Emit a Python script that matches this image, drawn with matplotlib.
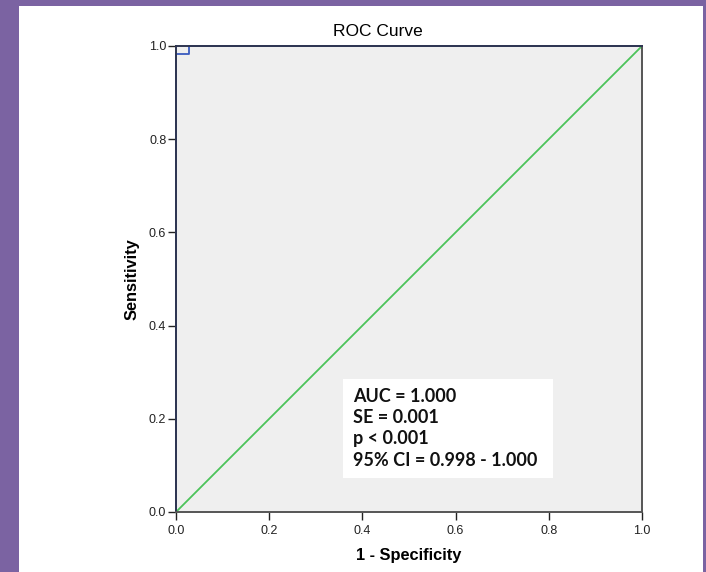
import matplotlib.pyplot as plt
from matplotlib.patches import Rectangle

# ROC curve points (1 - specificity, sensitivity)
fpr = [0.0, 0.0, 0.028, 0.028, 1.0]
tpr = [0.0, 0.983, 0.983, 1.0, 1.0]
ref_line = [0.0, 1.0]
ticks = [0.0, 0.2, 0.4, 0.6, 0.8, 1.0]
tick_labels = ['0.0', '0.2', '0.4', '0.6', '0.8', '1.0']
stats = ['AUC = 1.000', 'SE = 0.001', 'p < 0.001', '95% CI = 0.998 - 1.000']

SANS = ['Liberation Sans', 'DejaVu Sans']
W, H = 706, 572
fig = plt.figure(figsize=(W / 100, H / 100), dpi=100, facecolor='#7b63a2')
# white page inside the purple frame
fig.patches.append(Rectangle((19 / W, 0), (703 - 19) / W, (572 - 6) / H,
                             transform=fig.transFigure, facecolor='white',
                             edgecolor='none', zorder=-10))

ax = fig.add_axes([176 / W, 1 - 512 / H, (642 - 176) / W, (512 - 46) / H])
ax.set_facecolor('#efefef')
ax.plot(ref_line, ref_line, color='#4cc35a', lw=1.3, zorder=2)
ax.plot(fpr, tpr, color='#3a5bbf', lw=1.3, zorder=2.2, clip_on=False)
ax.set_xlim(0, 1)
ax.set_ylim(0, 1)

for side in ['bottom', 'right']:
    ax.spines[side].set_color('#555555')
    ax.spines[side].set_linewidth(1.4)
for side in ['left', 'top']:
    ax.spines[side].set_color('#2e3550')
    ax.spines[side].set_linewidth(1.4)

ax.set_xticks(ticks)
ax.set_xticklabels(tick_labels)
ax.set_yticks(ticks)
ax.set_yticklabels(tick_labels)
ax.tick_params(direction='out', length=6, width=1.0, color='#222222',
               labelsize=9, labelcolor='#222222')
ax.tick_params(axis='x', pad=3)
ax.tick_params(axis='y', pad=1)

ax.set_title('ROC Curve', fontsize=12.5, pad=7, x=0.433, family=SANS)
ax.set_xlabel('1 - Specificity', fontsize=11.8, fontweight='bold',
              labelpad=8, family=SANS)
ax.set_ylabel('Sensitivity', fontsize=11.8, fontweight='bold', labelpad=7,
              family=SANS)
for lbl in ax.get_xticklabels() + ax.get_yticklabels():
    lbl.set_family(SANS)

# statistics box
ax.add_patch(Rectangle((0.358, 0.073), 0.451, 0.212, facecolor='white',
                       edgecolor='none', zorder=4))
ax.text(0.379, 0.266, '\n'.join(stats), va='top', ha='left', fontsize=13,
        fontweight='bold', family=['Lato', 'DejaVu Sans'], color='#111111',
        linespacing=1.3, zorder=5)

fig.savefig('out.png', dpi=100, facecolor=fig.get_facecolor())
